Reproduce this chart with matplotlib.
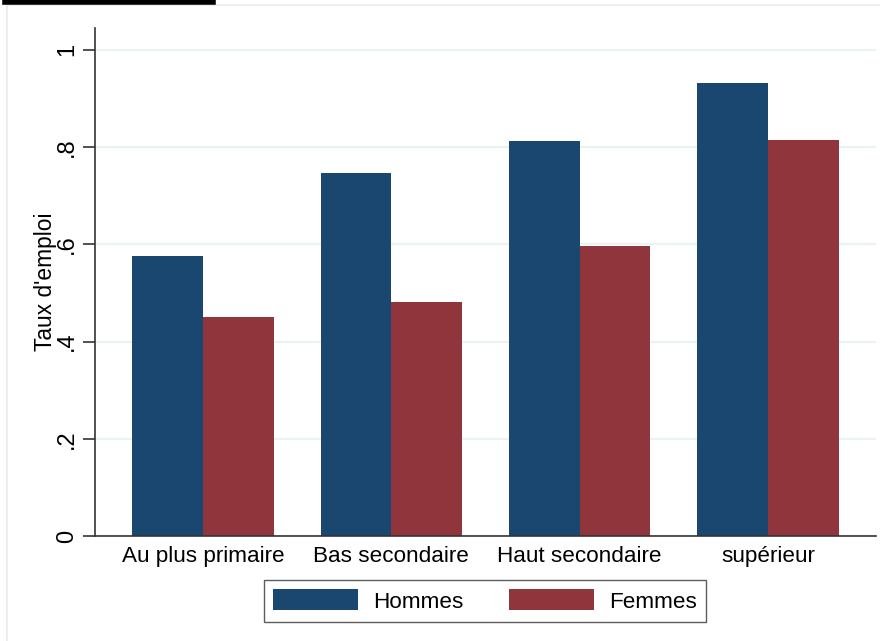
import matplotlib.pyplot as plt
import numpy as np
from matplotlib.patches import Rectangle

plt.rcParams['font.family'] = ['Liberation Sans', 'DejaVu Sans']

niveaux = ['Au plus primaire', 'Bas secondaire', 'Haut secondaire', 'supérieur']
hommes = [0.577, 0.746, 0.812, 0.931]
femmes = [0.451, 0.481, 0.597, 0.815]
yticks = [0, 0.2, 0.4, 0.6, 0.8, 1.0]
ytick_labels = ['0', '.2', '.4', '.6', '.8', '1']

col_h = '#1a476f'
col_f = '#90353b'

W, H = 880, 641
fig = plt.figure(figsize=(W / 100, H / 100), dpi=100)
ax = fig.add_axes([95 / W, 1 - 536 / H, (876 - 95) / W, (536 - 28) / H])

# cadre pâle de la zone graphique (coupé en haut)
fig.patches.append(Rectangle((7 / W, -0.1), 1.2, 1 - 5 / H + 0.1, transform=fig.transFigure,
                             fill=False, edgecolor='#e6eef0', linewidth=1.2))

x = np.arange(len(niveaux))
bw = 0.376
ax.bar(x - bw / 2, hommes, bw, color=col_h, label='Hommes', linewidth=0)
ax.bar(x + bw / 2, femmes, bw, color=col_f, label='Femmes', linewidth=0)

ax.set_xlim(-0.575, 3.575)
ax.set_ylim(0, 1.045)
ax.set_yticks(yticks)
ax.set_yticklabels(ytick_labels, rotation=90, va='center', fontsize=17)
ax.set_xticks(x)
ax.set_xticklabels(niveaux, fontsize=16.2)
ax.tick_params(axis='x', length=0, pad=7)
ax.tick_params(axis='y', length=9, width=1.2, color='#333333', pad=3)
ax.yaxis.grid(True, color='#eaf2f3', linewidth=1.6)
ax.set_axisbelow(True)
for s in ['top', 'right']:
    ax.spines[s].set_visible(False)
for s in ['left', 'bottom']:
    ax.spines[s].set_color('#333333')
    ax.spines[s].set_linewidth(1.2)
ax.set_ylabel("Taux d'emploi", fontsize=16.4, va='center')
ax.yaxis.set_label_coords((45 - 95) / 781, 0.5)

leg = fig.legend(loc='center', bbox_to_anchor=(485 / W, 1 - 601 / H), ncol=2, fontsize=16.2,
                 frameon=True, fancybox=False, edgecolor='#333333', handlelength=3.8,
                 handleheight=1.05, columnspacing=2.0, handletextpad=0.68, borderpad=0.4)
leg.get_frame().set_linewidth(1.0)

# titre coupé en haut de l'image
fig.text(5 / W, 1 + 9 / H, "Graphique 4.1a : Taux d'emploi des hommes et des femmes selon le niveau d'éducation",
         fontsize=15, fontweight='bold', va='baseline', ha='left')
fig.add_artist(plt.Line2D([5 / W, 213 / W], [1 - 2 / H, 1 - 2 / H], transform=fig.transFigure,
                          color='black', linewidth=4))

fig.savefig('out.png', dpi=100, facecolor='white')
